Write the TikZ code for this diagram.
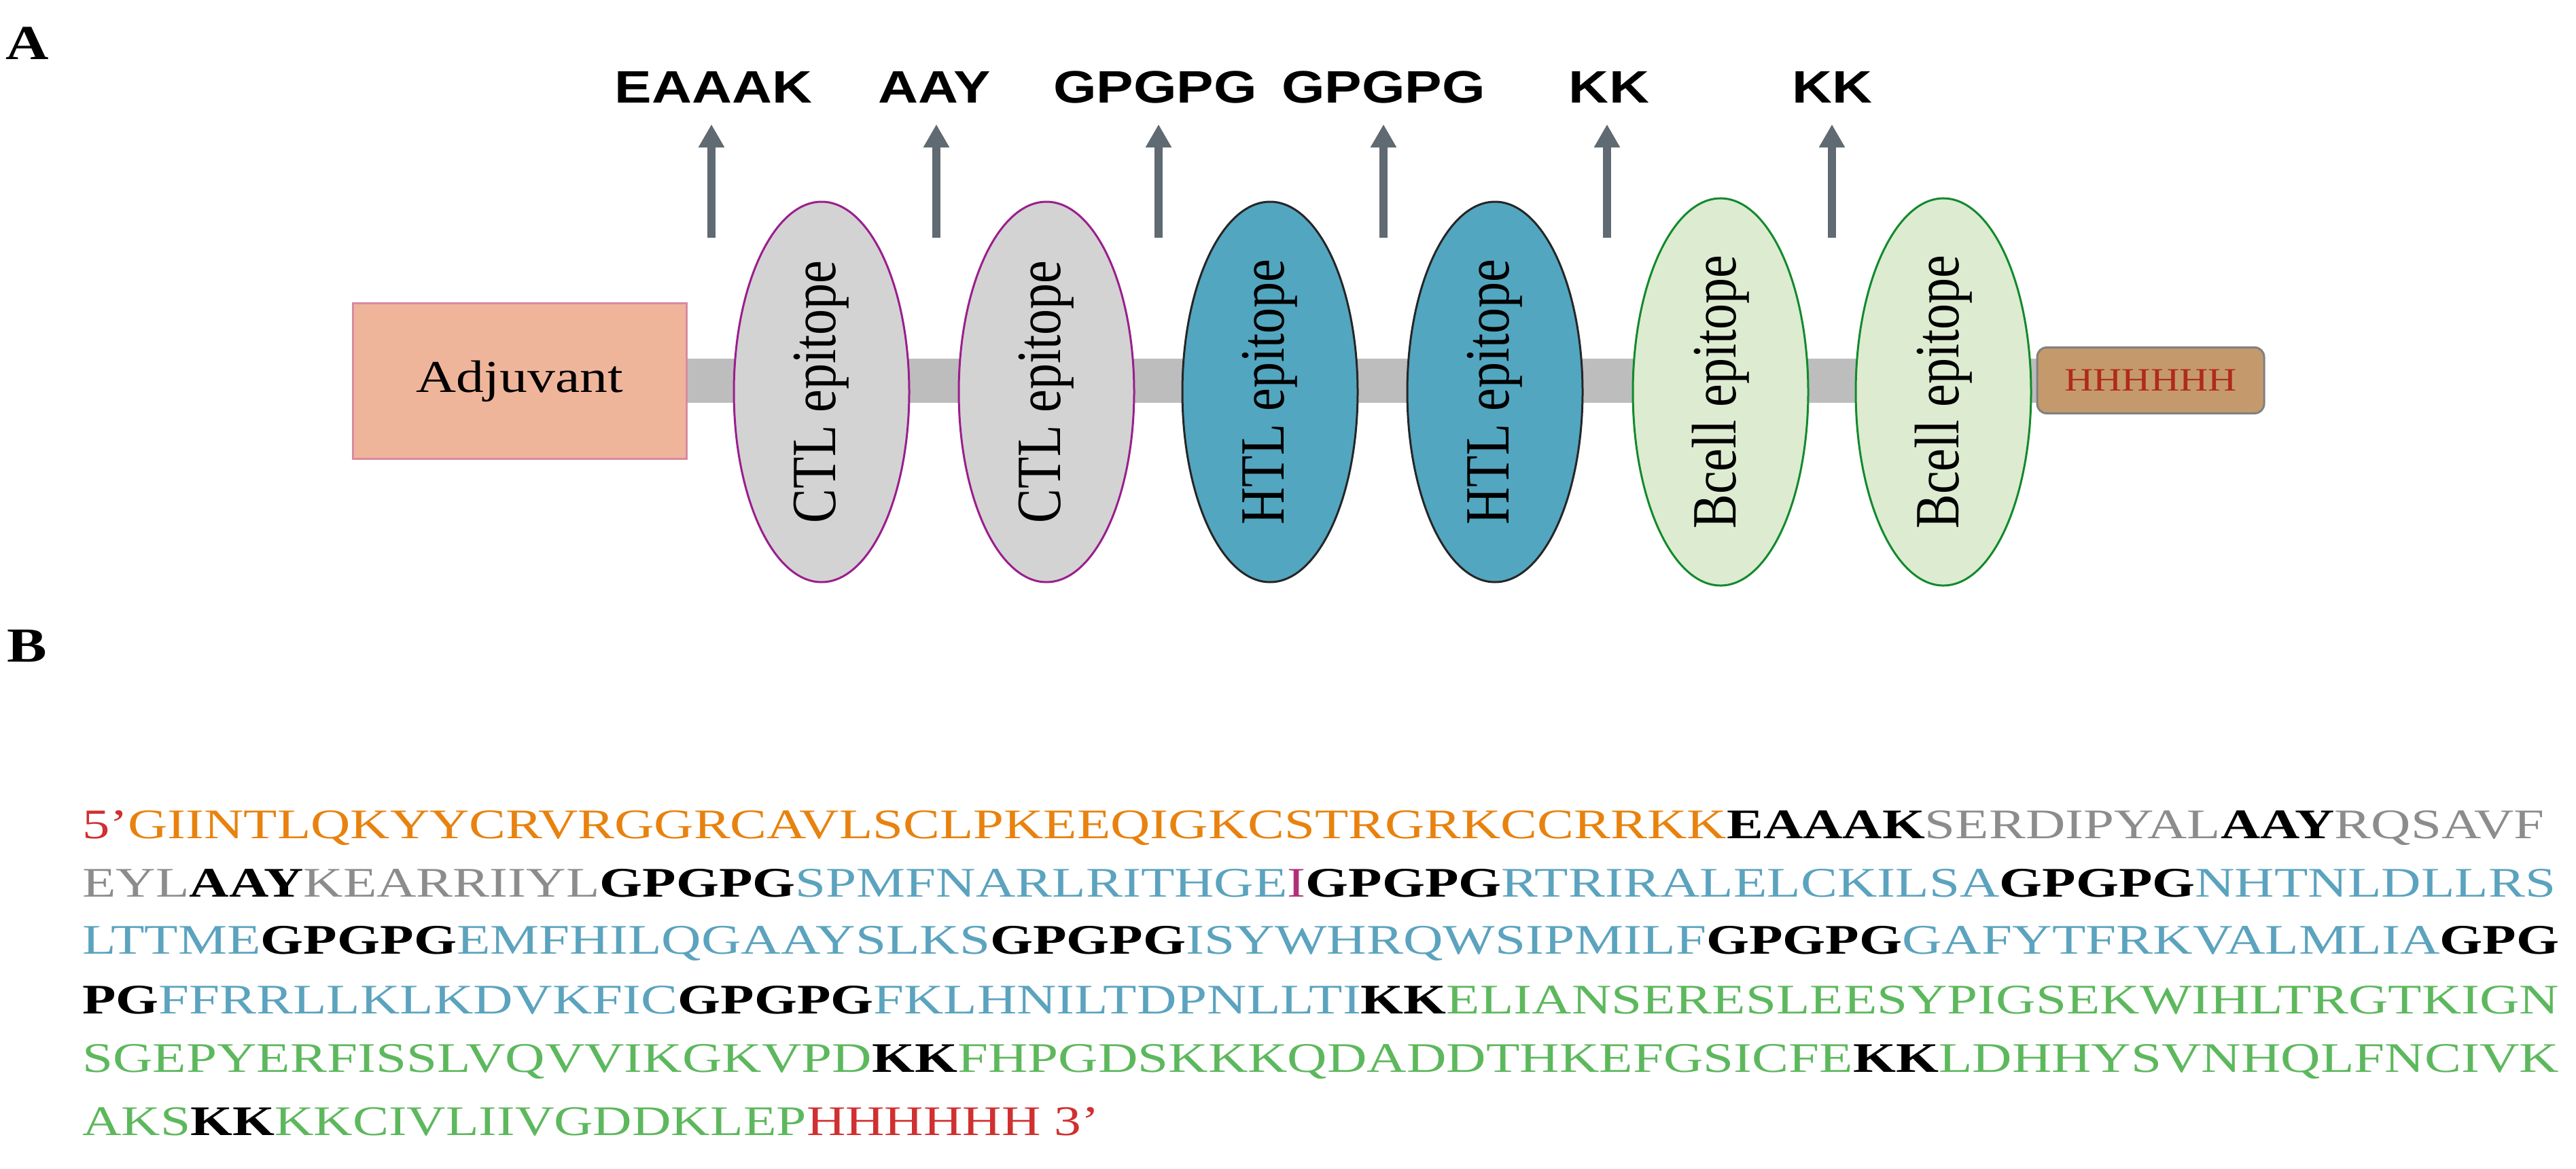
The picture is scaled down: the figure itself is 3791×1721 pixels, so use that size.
\documentclass[tikz,border=0pt]{standalone}
\usepackage{fontspec}
\setmainfont{Liberation Serif}
\newfontfamily\lsans{Liberation Sans}
\usetikzlibrary{shapes.geometric,arrows.meta}
\definecolor{cOr}{HTML}{E8820E}
\definecolor{cGr}{HTML}{8C8C8C}
\definecolor{cBl}{HTML}{5BA3BE}
\definecolor{cGn}{HTML}{5DB85D}
\definecolor{cRd}{HTML}{D03030}
\definecolor{cMg}{HTML}{B0307A}
\definecolor{ctlFill}{HTML}{D3D3D3}
\definecolor{ctlLine}{HTML}{9B1E8E}
\definecolor{htlFill}{HTML}{52A6C0}
\definecolor{bFill}{HTML}{DDEBD0}
\definecolor{bLine}{HTML}{128A2E}
\definecolor{adjFill}{HTML}{EFB59B}
\definecolor{adjLine}{HTML}{D88AA0}
\definecolor{barC}{HTML}{BDBDBD}
\definecolor{hisFill}{HTML}{C49A6C}
\definecolor{hisText}{HTML}{B02A1A}
\definecolor{arrC}{HTML}{5F6A72}
\newcommand\sO[1]{\textcolor{cOr}{#1}}
\newcommand\sG[1]{\textcolor{cGr}{#1}}
\newcommand\sB[1]{\textcolor{cBl}{#1}}
\newcommand\sN[1]{\textcolor{cGn}{#1}}
\newcommand\sR[1]{\textcolor{cRd}{#1}}
\newcommand\sM[1]{\textcolor{cMg}{#1}}
\newcommand\sK[1]{\textbf{#1}}
\newsavebox\seqbox
\newcommand\seqrow[2]{\sbox\seqbox{#2}\pgfmathsetmacro\sx{#1/\wd\seqbox}\scalebox{\sx}[1]{\usebox\seqbox}}
\newcommand\ep[1]{\scalebox{1.22}[1]{\rotatebox{90}{#1}}}
\tikzset{
  epi/.style={ellipse, minimum width=258pt, minimum height=560pt, inner sep=0pt, line width=3pt, font=\fontsize{76pt}{80pt}\selectfont},
  ctl/.style={epi, fill=ctlFill, draw=ctlLine},
  htl/.style={epi, fill=htlFill, draw=black!85},
  bce/.style={epi, fill=bFill, draw=bLine},
  lnk/.style={font=\lsans\bfseries\fontsize{67pt}{70pt}\selectfont, inner sep=0pt},
  arr/.style={draw=arrC, line width=12pt, -{Triangle[length=34pt,width=36pt]}},
  seq/.style={anchor=base west, inner sep=0pt, font=\fontsize{62pt}{66pt}\selectfont},
  panel/.style={font=\bfseries\fontsize{72pt}{76pt}\selectfont, inner sep=0pt}
}
\begin{document}
\begin{tikzpicture}[x=1pt,y=-1pt]
\useasboundingbox (0,0) rectangle (3791,1721);
\node[panel] (pA) at (40,64) {\scalebox{1.22}[1]{A}};
\node[panel] (pB) at (40,951) {\scalebox{1.22}[1]{B}};
% backbone
\node[fill=barC, minimum width=1987pt, minimum height=65pt, inner sep=0pt] (bar) at (2004,560) {};
\node[fill=adjFill, draw=adjLine, line width=3pt, minimum width=491pt, minimum height=229pt, inner sep=0pt] (adj) at (765,561)
  {\fontsize{67pt}{70pt}\selectfont\scalebox{1.22}[1]{Adjuvant}};
\node[fill=hisFill, draw=gray, line width=3pt, rounded corners=14pt, minimum width=334pt, minimum height=97pt, inner sep=0pt] (his) at (3165,560)
  {\fontsize{48pt}{50pt}\selectfont\color{hisText}\scalebox{1.22}[1]{HHHHHH}};
\node[ctl] (e1) at (1209,577) {\ep{CTL epitope}};
\node[ctl] (e2) at (1540,577) {\ep{CTL epitope}};
\node[htl] (e3) at (1869,577) {\ep{HTL epitope}};
\node[htl] (e4) at (2200,577) {\ep{HTL epitope}};
\node[bce] (e5) at (2532,577) {\ep{Bcell epitope}};
\node[bce] (e6) at (2860,577) {\ep{Bcell epitope}};
% linker labels and arrows
\foreach \nm/\x/\t in {l1/1050/EAAAK, l2/1375/AAY, l3/1700/GPGPG, l4/2036/GPGPG, l5/2368/KK, l6/2696/KK}{
  \node[lnk] (\nm) at (\x,128) {\scalebox{1.22}[1]{\t}};
}
\foreach \nm/\x in {a1/1047, a2/1378, a3/1705, a4/2036, a5/2365, a6/2696}{
  \coordinate (\nm s) at (\x,350);
  \coordinate (\nm e) at (\x,183);
  \draw[arr] (\nm s) -- (\nm e);
}
% sequence
\node[seq] (r1) at (121,1234) {\seqrow{3623}{\sR{5’}\sO{GIINTLQKYYCRVRGGRCAVLSCLPKEEQIGKCSTRGRKCCRRKK}\sK{EAAAK}\sG{SERDIPYAL}\sK{AAY}\sG{RQSAVF}}};
\node[seq] (r2) at (121,1320) {\seqrow{3640}{\sG{EYL}\sK{AAY}\sG{KEARRIIYL}\sK{GPGPG}\sB{SPMFNARLRITHGE}\sM{I}\sK{GPGPG}\sB{RTRIRALELCKILSA}\sK{GPGPG}\sB{NHTNLDLLRS}}};
\node[seq] (r3) at (121,1404) {\seqrow{3645}{\sB{LTTME}\sK{GPGPG}\sB{EMFHILQGAAYSLKS}\sK{GPGPG}\sB{ISYWHRQWSIPMILF}\sK{GPGPG}\sB{GAFYTFRKVALMLIA}\sK{GPG}}};
\node[seq] (r4) at (121,1492) {\seqrow{3645}{\sK{PG}\sB{FFRRLLKLKDVKFIC}\sK{GPGPG}\sB{FKLHNILTDPNLLTI}\sK{KK}\sN{ELIANSERESLEESYPIGSEKWIHLTRGTKIGN}}};
\node[seq] (r5) at (121,1578) {\seqrow{3645}{\sN{SGEPYERFISSLVQVVIKGKVPD}\sK{KK}\sN{FHPGDSKKKQDADDTHKEFGSICFE}\sK{KK}\sN{LDHHYSVNHQLFNCIVK}}};
\node[seq] (r6) at (121,1671) {\seqrow{1497}{\sN{AKS}\sK{KK}\sN{KKCIVLIIVGDDKLEP}\sR{HHHHHH 3’}}};
\end{tikzpicture}
\end{document}
